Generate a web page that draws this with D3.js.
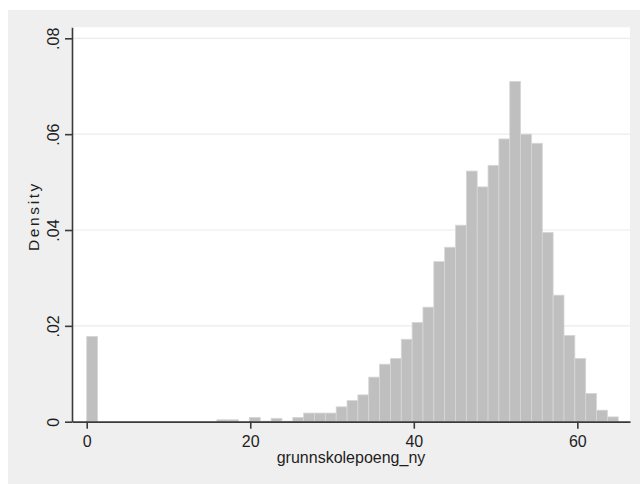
<!DOCTYPE html>
<html>
<head>
<meta charset="utf-8">
<script src="https://cdn.jsdelivr.net/npm/d3@7"></script>
<style>
  html, body { margin: 0; padding: 0; background: #ffffff; }
  svg { display: block; }
  text { font-family: "Liberation Sans", Arial, Helvetica, sans-serif; fill: #1e1e1e; }
</style>
</head>
<body>
<svg id="chart" width="640" height="484"></svg>
<script>
// ---- data ----
const binMin = 0;
const binMax = 65;
const densities = [
  0.0178, 0, 0, 0, 0, 0, 0, 0, 0, 0,
  0, 0, 0.0004, 0.0004, 0, 0.0009, 0.0001, 0.0007, 0.0001, 0.0009,
  0.0018, 0.0018, 0.0018, 0.0031, 0.0044, 0.0056, 0.0093, 0.0120, 0.0132, 0.0172,
  0.0207, 0.0239, 0.0334, 0.0364, 0.0410, 0.0523, 0.0490, 0.0535, 0.0590, 0.0710,
  0.0600, 0.0581, 0.0395, 0.0264, 0.0180, 0.0132, 0.0059, 0.0024, 0.0010
];
const xTicks = [0, 20, 40, 60];
const yTicks = [0, 0.02, 0.04, 0.06, 0.08];
const yTickLabels = ["0", ".02", ".04", ".06", ".08"];
const xTitle = "grunnskolepoeng_ny";
const yTitle = "Density";

// ---- layout ----
const svg = d3.select("#chart");
const W = 640, H = 484;
const plot = { left: 72, right: 630, top: 27.3, bottom: 421.7 };

svg.append("rect").attr("x", 8).attr("y", 10).attr("width", W - 8).attr("height", H - 10)
  .attr("fill", "#efefef");
svg.append("rect").attr("x", plot.left).attr("y", plot.top)
  .attr("width", plot.right - plot.left).attr("height", plot.bottom - plot.top)
  .attr("fill", "#ffffff");

const x = d3.scaleLinear().domain([-1.8, 66.44]).range([plot.left, plot.right]);
const y = d3.scaleLinear().domain([0, 0.0823]).range([plot.bottom, plot.top]);

const binW = (binMax - binMin) / densities.length;
const bins = densities.map((d, i) => ({ x0: binMin + i * binW, x1: binMin + (i + 1) * binW, d }));

// gridlines
svg.append("g").selectAll("line").data(yTicks.filter(t => t > 0)).join("line")
  .attr("x1", plot.left).attr("x2", plot.right)
  .attr("y1", d => y(d)).attr("y2", d => y(d))
  .attr("stroke", "#ebebeb").attr("stroke-width", 1.2);

// bars
svg.append("g").selectAll("rect").data(bins.filter(b => b.d > 0)).join("rect")
  .attr("x", b => x(b.x0)).attr("width", b => x(b.x1) - x(b.x0))
  .attr("y", b => y(b.d)).attr("height", b => y(0) - y(b.d))
  .attr("fill", "#bfbfbf").attr("stroke", "#d6d6d6").attr("stroke-width", 0.8);

// y axis
const yAxis = svg.append("g").attr("transform", `translate(${plot.left},0)`)
  .call(d3.axisLeft(y).tickValues(yTicks).tickSize(7).tickSizeOuter(0)
    .tickFormat((d, i) => yTickLabels[i]));
yAxis.select(".domain").attr("stroke", "#3a3a3a").attr("stroke-width", 1.6);
yAxis.selectAll(".tick line").attr("stroke", "#3a3a3a").attr("stroke-width", 1.6);
yAxis.selectAll(".tick text")
  .attr("transform", "rotate(-90)")
  .attr("x", 0).attr("y", -13.5).attr("dy", 0)
  .attr("text-anchor", "middle")
  .style("font-size", "16px").style("fill", "#1e1e1e");

// x axis
const xAxis = svg.append("g").attr("transform", `translate(0,${plot.bottom})`)
  .call(d3.axisBottom(x).tickValues(xTicks).tickSize(7).tickSizeOuter(0).tickFormat(d3.format("d")));
xAxis.select(".domain").attr("stroke", "#3a3a3a").attr("stroke-width", 1.8);
xAxis.selectAll(".tick line").attr("stroke", "#3a3a3a").attr("stroke-width", 1.6);
xAxis.selectAll(".tick text").attr("y", 25).attr("dy", 0)
  .style("font-size", "16px").style("fill", "#1e1e1e");

// titles
svg.append("text").attr("x", (plot.left + plot.right) / 2).attr("y", 463.3)
  .attr("text-anchor", "middle").style("font-size", "16px").text(xTitle);
svg.append("text").attr("transform", "translate(39.3,216) rotate(-90)")
  .attr("text-anchor", "middle").style("font-size", "15.5px").style("letter-spacing", "2.6px")
  .text(yTitle);
</script>
</body>
</html>
